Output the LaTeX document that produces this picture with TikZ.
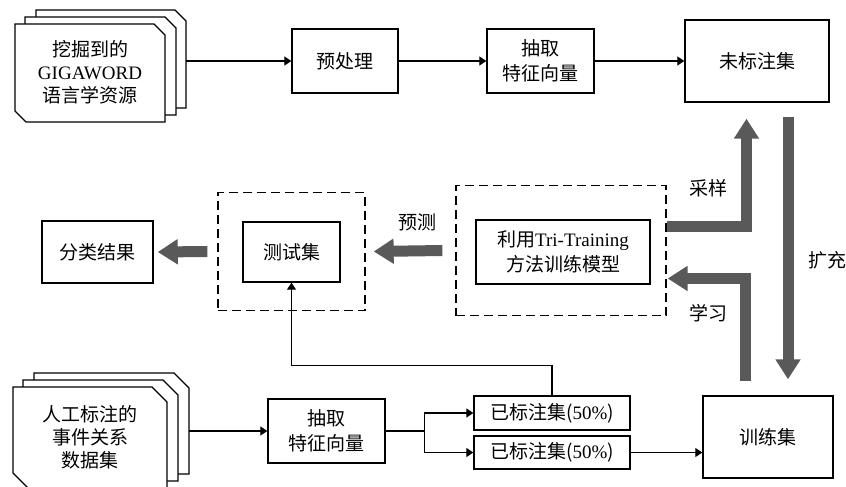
\documentclass[tikz,border=0pt]{standalone}
\usepackage{fontspec}
\setmainfont{Liberation Serif}
\newfontfamily\cjk{Noto Sans CJK SC}
\usetikzlibrary{arrows.meta,calc}
\definecolor{arrowgray}{HTML}{595959}
\newcommand\docsheet[5]{%
  \draw[doc] (#1,#2) -- (#3-#5,#2) -- (#3,#2+#5) -- (#3,#4) -- (#1+#5,#4) -- (#1,#4-#5) -- cycle;}
\begin{document}
\begin{tikzpicture}[x=1pt,y=-1pt,
  every node/.style={font=\fontsize{19}{25}\selectfont, align=center, inner sep=0pt},
  box/.style={draw, line width=1.4pt, fill=white},
  dashbox/.style={draw, line width=1.3pt, dash pattern=on 9pt off 5pt},
  doc/.style={draw, line width=1.4pt, fill=white, line join=miter},
  conn/.style={line width=1.3pt, -{Triangle[length=7pt,width=9pt]}},
  plain/.style={line width=1.3pt},
  thick arrow/.style={draw=arrowgray, line width=11pt, line join=miter,
     -{Triangle[length=20pt,width=24pt]}, color=arrowgray},
  lbl/.style={font=\fontsize{19}{25}\selectfont}
  ]
\useasboundingbox (0,0) rectangle (846,487);
% top document stack
\docsheet{36}{10}{186}{108}{11}
\docsheet{25}{17}{176}{115}{11}
\docsheet{15}{24}{165}{122}{11}
\node[font=\fontsize{19}{23}\selectfont] (docA) at (90,72) {{\cjk 挖掘到的}\\GIGAWORD\\{\cjk 语言学资源}};
\coordinate (docAout) at (186,61);
% bottom document stack
\docsheet{34}{373}{189}{474}{15}
\docsheet{23}{380}{178}{481}{15}
\docsheet{13}{387}{167}{488}{15}
\node[font=\fontsize{19}{23}\selectfont] (docB) at (90,437) {{\cjk 人工标注的}\\{\cjk 事件关系}\\{\cjk 数据集}};
\coordinate (docBout) at (189,431);
% boxes
\node[box, minimum width=106pt, minimum height=64pt] (pre) at (345,61) {\cjk 预处理};
\node[box, minimum width=107pt, minimum height=64pt] (ext1) at (540.5,61) {\cjk 抽取\\\cjk 特征向量};
\node[box, minimum width=144pt, minimum height=82pt] (unl) at (757,61) {\cjk 未标注集};
\node[box, minimum width=111pt, minimum height=62pt] (res) at (97.5,252) {\cjk 分类结果};
\node[dashbox, minimum width=147pt, minimum height=118pt] (testdash) at (291.5,251.5) {};
\node[box, minimum width=97pt, minimum height=60pt] (test) at (291.5,252) {\cjk 测试集};
\node[dashbox, minimum width=210pt, minimum height=130pt] (tridash) at (561,250.5) {};
\node[box, minimum width=174pt, minimum height=64pt] (tri) at (563,252) {{\cjk 利用}Tri-Training\\{\cjk 方法训练模型}};
\node[box, minimum width=117pt, minimum height=64pt] (ext2) at (326.5,431) {\cjk 抽取\\\cjk 特征向量};
\node[box, minimum width=156pt, minimum height=34pt] (lab1) at (552,413) {{\cjk 已标注集(}50\%{\cjk )}};
\node[box, minimum width=156pt, minimum height=33pt] (lab2) at (552,452.5) {{\cjk 已标注集(}50\%{\cjk )}};
\node[box, minimum width=130pt, minimum height=82pt] (train) at (768,437) {\cjk 训练集};
% thin connectors
\draw[conn] (docAout) -- (pre.west);
\draw[conn] (pre.east) -- (ext1.west);
\draw[conn] (ext1.east) -- (unl.west);
\draw[conn] (docBout) -- (ext2.west);
\draw[plain] (ext2.east) -- ++(39,0) coordinate (br);
\draw[conn] (br) |- (lab1.west);
\draw[conn] (br) |- (lab2.west);
\draw[conn] (lab2.east) -- (lab2.east -| train.west);
\draw[conn] (lab1.north) -- ++(0,-30) -| (test.south);
% thick arrows
\draw[thick arrow] ($(tridash.west)+(-13,0)$) -- ($(testdash.east)+(8,0)$);
\draw[thick arrow] ($(testdash.west)+(-10,0)$) -- ($(res.east)+(4,0)$);
\draw[thick arrow] ($(tridash.east)+(0,-24)$) -| ($(unl.south)+(-10.5,16)$);
\draw[thick arrow] ($(train.north)+(-22.5,-14)$) |- ($(tridash.east)+(1,28)$);
\draw[thick arrow] ($(unl.south)+(31,14)$) -- ($(train.north)+(20,-16)$);
% labels
\node[lbl] (lpred) at (417,222) {\cjk 预测};
\node[lbl] (lsamp) at (708,188) {\cjk 采样};
\node[lbl] (llearn) at (708,313) {\cjk 学习};
\node[lbl] (lexp) at (827,260) {\cjk 扩充};
\end{tikzpicture}
\end{document}
